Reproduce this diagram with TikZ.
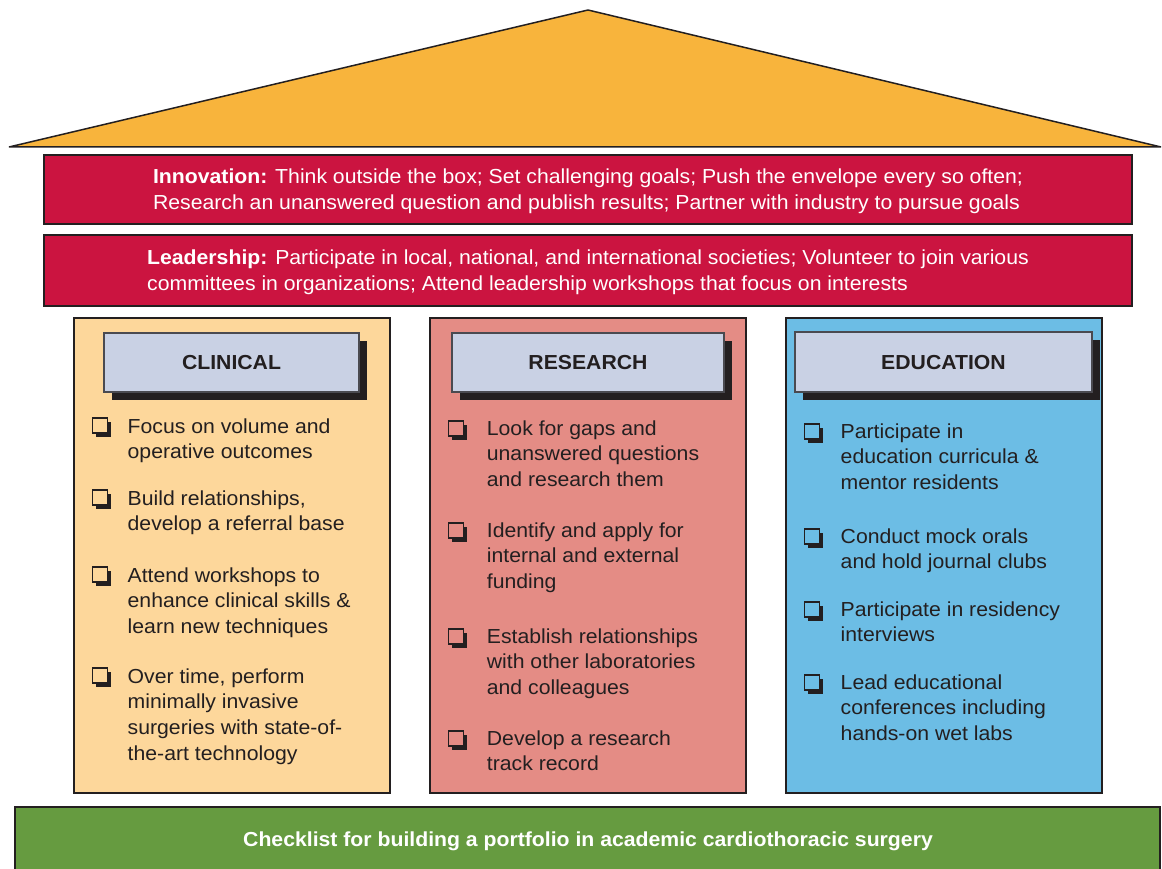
\documentclass[tikz,border=0pt]{standalone}
\usepackage{fontspec}
\setmainfont[FakeStretch=1.045]{Liberation Sans}

\definecolor{roofc}{HTML}{F8B43C}
\definecolor{bandred}{HTML}{CB1440}
\definecolor{clinc}{HTML}{FDD79B}
\definecolor{resc}{HTML}{E48C85}
\definecolor{educ}{HTML}{6CBDE5}
\definecolor{headc}{HTML}{C9D1E4}
\definecolor{greenc}{HTML}{669B40}
\definecolor{ink}{HTML}{231F20}
\definecolor{headedge}{HTML}{4A4A50}

% multi-line item text with the baseline of its first line as reference
\newcommand{\itemlines}[1]{\parbox[t]{300pt}{\raggedright #1}}

% checkbox with drop shadow: x, baseline y, interior colour
\newcommand{\ckbox}[3]{%
  \fill[ink] (#1+3.7,#2-10.3) rectangle (#1+18.7,#2+4.7);
  \filldraw[draw=ink, line width=1.3pt, fill=#3] (#1,#2-14) rectangle (#1+15,#2+1);
}

% column header with shadow: left, top, right, bottom
\newcommand{\headbox}[4]{%
  \fill[ink] (#1+7.5,#2+7.5) rectangle (#3+7.5,#4+7.5);
  \filldraw[draw=headedge, line width=1.2pt, fill=headc] (#1,#2) rectangle (#3,#4);
}

\tikzset{
  bandbox/.style={draw=ink, line width=2pt, fill=bandred},
  colbox/.style={draw=ink, line width=1.5pt},
  bandtxt/.style={align=left, inner sep=0pt, text=white,
    font=\fontsize{20.3}{25.7}\selectfont},
  headtxt/.style={anchor=base, inner sep=0pt, text=ink,
    font=\fontsize{20.3}{25.7}\selectfont\bfseries},
  itemtxt/.style={anchor=base west, inner sep=0pt, text=ink,
    font=\fontsize{20.3}{25.7}\selectfont},
  foottxt/.style={anchor=base, inner sep=0pt, text=white,
    font=\fontsize{20.3}{25.7}\selectfont\bfseries}
}

\begin{document}
\begin{tikzpicture}[x=1pt,y=-1pt]
\useasboundingbox (0,0) rectangle (1162,869);

% roof
\filldraw[fill=roofc, draw=ink, line width=1.5pt, line join=bevel]
  (9,147) -- (588,10) -- (1161,147) -- cycle;

% innovation and leadership bands
\draw[bandbox] (44,155) rectangle (1132,224);
\node[bandtxt] (innov) at (588,191.5)
  {\textbf{Innovation:} Think outside the box; Set challenging goals; Push the envelope every so often;\\
   Research an unanswered question and publish results; Partner with industry to pursue goals};
\draw[bandbox] (44,235) rectangle (1132,306);
\node[bandtxt] (lead) at (588,272.5)
  {\textbf{Leadership:} Participate in local, national, and international societies; Volunteer to join various\\
   committees in organizations; Attend leadership workshops that focus on interests};

% the three pillars
\draw[colbox, fill=clinc] (74,318) rectangle (390,793);
\draw[colbox, fill=resc] (430,318) rectangle (746,793);
\draw[colbox, fill=educ] (786,318) rectangle (1102,793);

% pillar headers
\headbox{104}{333}{359}{392}
\node[headtxt] (clinhead) at (231.5,369) {CLINICAL};
\headbox{452}{333}{724}{392}
\node[headtxt] (reshead) at (588,369) {RESEARCH};
\headbox{795}{332}{1092}{392}
\node[headtxt] (eduhead) at (943.5,369) {EDUCATION};

% clinical items
\ckbox{92.7}{432}{clinc}
\node[itemtxt] (c1) at (127.5,433) {\itemlines{Focus on volume and\\operative outcomes}};
\ckbox{92.7}{504}{clinc}
\node[itemtxt] (c2) at (127.5,505) {\itemlines{Build relationships,\\develop a referral base}};
\ckbox{92.7}{581}{clinc}
\node[itemtxt] (c3) at (127.5,582) {\itemlines{Attend workshops to\\enhance clinical skills \&\\learn new techniques}};
\ckbox{92.7}{682}{clinc}
\node[itemtxt] (c4) at (127.5,683) {\itemlines{Over time, perform\\minimally invasive\\surgeries with state-of-\\the-art technology}};

% research items
\ckbox{448.5}{435}{resc}
\node[itemtxt] (r1) at (486.7,435) {\itemlines{Look for gaps and\\unanswered questions\\and research them}};
\ckbox{448.5}{537}{resc}
\node[itemtxt] (r2) at (486.7,537) {\itemlines{Identify and apply for\\internal and external\\funding}};
\ckbox{448.5}{643}{resc}
\node[itemtxt] (r3) at (486.7,643) {\itemlines{Establish relationships\\with other laboratories\\and colleagues}};
\ckbox{448.5}{745}{resc}
\node[itemtxt] (r4) at (486.7,745) {\itemlines{Develop a research\\track record}};

% education items
\ckbox{804.5}{438}{educ}
\node[itemtxt] (e1) at (840.5,438) {\itemlines{Participate in\\education curricula \&\\mentor residents}};
\ckbox{804.5}{543}{educ}
\node[itemtxt] (e2) at (840.5,543) {\itemlines{Conduct mock orals\\and hold journal clubs}};
\ckbox{804.5}{616}{educ}
\node[itemtxt] (e3) at (840.5,616) {\itemlines{Participate in residency\\interviews}};
\ckbox{804.5}{689}{educ}
\node[itemtxt] (e4) at (840.5,689) {\itemlines{Lead educational\\conferences including\\hands-on wet labs}};

% foundation
\draw[draw=ink, line width=2pt, fill=greenc] (15,807) rectangle (1160,885);
\node[foottxt] (foot) at (588,846)
  {Checklist for building a portfolio in academic cardiothoracic surgery};
\end{tikzpicture}
\end{document}
